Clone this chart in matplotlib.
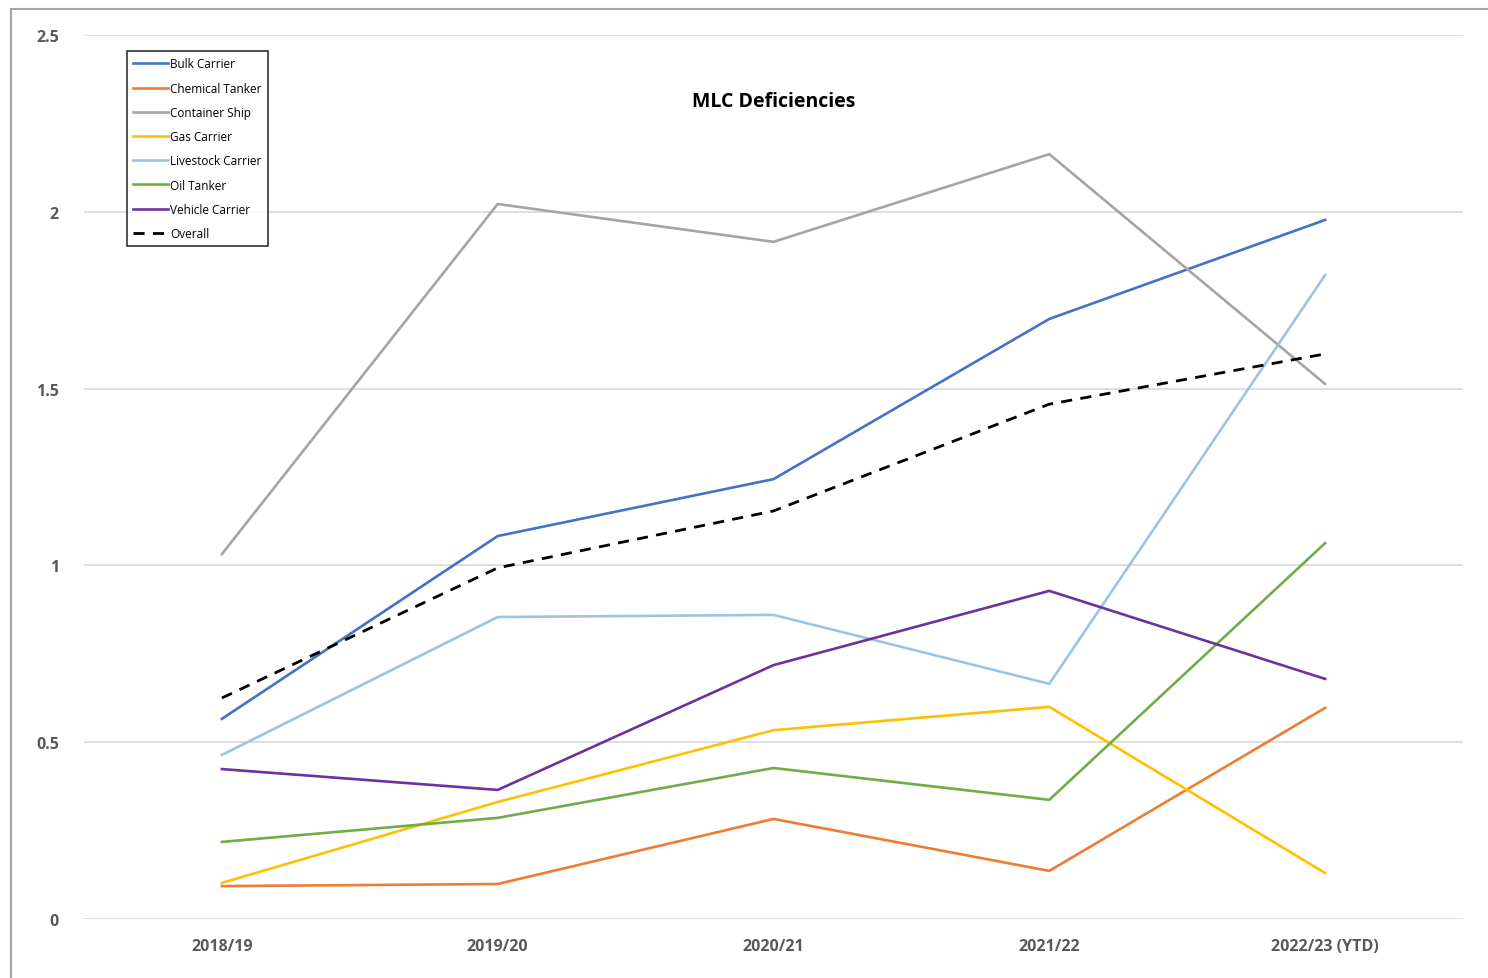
import matplotlib.pyplot as plt
from matplotlib.patches import Rectangle

plt.rcParams['font.family'] = ['Open Sans', 'DejaVu Sans']

years = ["2018/19", "2019/20", "2020/21", "2021/22", "2022/23 (YTD)"]

bulk_carrier = [0.566, 1.083, 1.244, 1.697, 1.977]
chemical_tanker = [0.093, 0.099, 0.283, 0.136, 0.597]
container_ship = [1.032, 2.022, 1.915, 2.163, 1.513]
gas_carrier = [0.102, 0.331, 0.534, 0.600, 0.130]
livestock_carrier = [0.464, 0.854, 0.860, 0.665, 1.821]
oil_tanker = [0.218, 0.286, 0.427, 0.337, 1.063]
vehicle_carrier = [0.424, 0.365, 0.718, 0.928, 0.679]
overall = [0.625, 0.993, 1.154, 1.456, 1.598]

series = [
    ("Bulk Carrier", bulk_carrier, "#4472C4"),
    ("Chemical Tanker", chemical_tanker, "#ED7D31"),
    ("Container Ship", container_ship, "#A5A5A5"),
    ("Gas Carrier", gas_carrier, "#FFC000"),
    ("Livestock Carrier", livestock_carrier, "#9DC3E6"),
    ("Oil Tanker", oil_tanker, "#70AD47"),
    ("Vehicle Carrier", vehicle_carrier, "#7030A0"),
]

fig = plt.figure(figsize=(14.88, 9.79), dpi=100)
ax = fig.add_axes([84/1488, 1-920/979, (1463-84)/1488, (920-36)/979])

x = list(range(len(years)))
for name, vals, col in series:
    ax.plot(x, vals, color=col, lw=1.9, label=name)
ax.plot(x, overall, color="black", lw=2.0, ls=(0, (4, 3)), label="Overall")

ax.set_xlim(-0.5, 4.5)
ax.set_ylim(0, 2.5)
ax.set_yticks([0, 0.5, 1, 1.5, 2, 2.5])
ax.set_yticklabels(["0", "0.5", "1", "1.5", "2", "2.5"])
ax.set_xticks(x)
ax.set_xticklabels(years)
ax.grid(axis="y", color="#D9D9D9", lw=1.2)
ax.set_axisbelow(True)
for s in ax.spines.values():
    s.set_visible(False)
ax.tick_params(length=0, labelsize=11.5, colors="#595959")
ax.tick_params(axis="y", pad=18)
ax.tick_params(axis="x", pad=14)
for lab in ax.get_xticklabels() + ax.get_yticklabels():
    lab.set_fontweight("bold")

ax.text(0.5, 0.925, "MLC Deficiencies", transform=ax.transAxes, ha="center",
        va="center", fontsize=14, fontweight="bold", color="black")

leg = ax.legend(loc="upper left", bbox_to_anchor=((127-84)/1379, 1-(52-36)/884),
                fontsize=8.5, frameon=True, fancybox=False, edgecolor="black",
                handlelength=2.9, handletextpad=0.2, labelspacing=0.95,
                borderpad=0.55, borderaxespad=0)
leg.get_frame().set_linewidth(1.2)

fig.patches.append(Rectangle((11/1488, -0.1), 1.2, 1-10/979+0.1,
                             transform=fig.transFigure, fill=False,
                             edgecolor="#A6A6A6", lw=1.5))

fig.savefig("out.png", dpi=100)
